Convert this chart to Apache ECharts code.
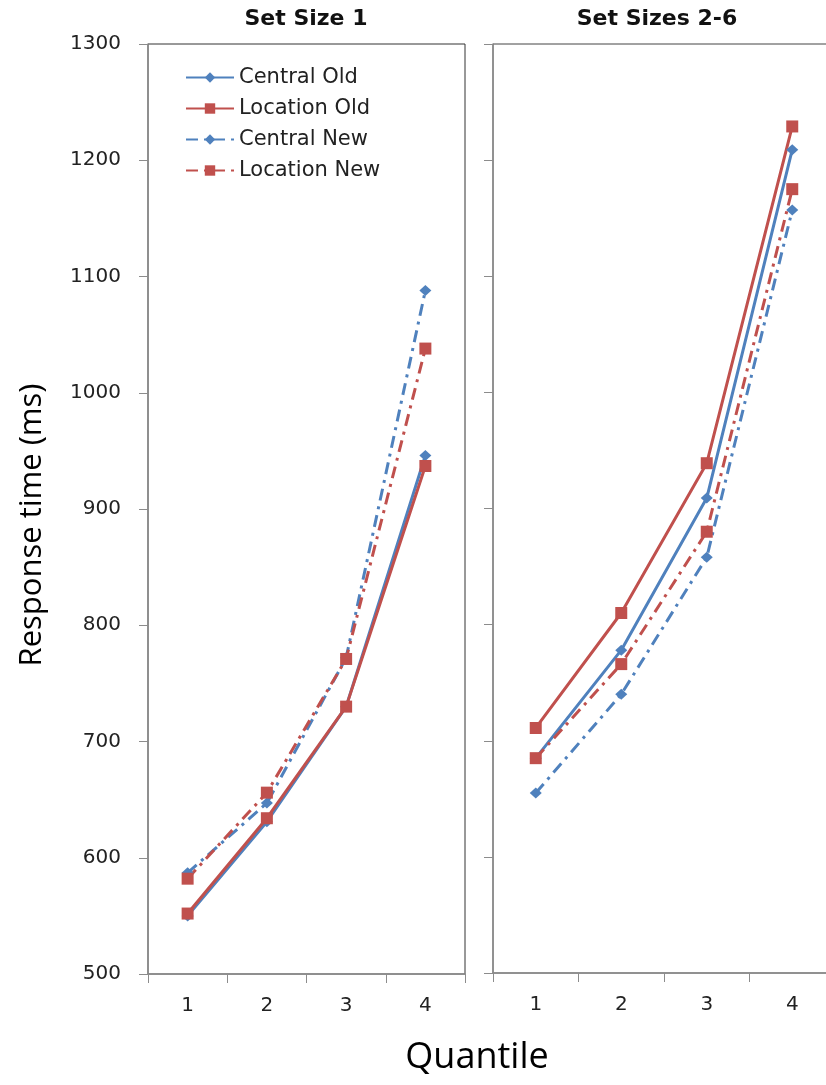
<!DOCTYPE html>
<html>
<head>
<meta charset="utf-8">
<script src="https://cdn.jsdelivr.net/npm/echarts@6/dist/echarts.min.js"></script>
<style>
html,body{margin:0;padding:0;background:#fff;}
#chart{width:826px;height:1085px;}
</style>
</head>
<body>
<div id="chart"></div>
<script>
const categories = ['1', '2', '3', '4'];
const seriesNames = ['Central Old', 'Location Old', 'Central New', 'Location New'];
const panelTitles = ['Set Size 1', 'Set Sizes 2-6'];
const yTicks = { min: 500, max: 1300, step: 100 };

const ss1CentralOld = [550, 631, 730, 946];
const ss1LocationOld = [552, 634, 730, 937];
const ss1CentralNew = [587, 647, 772, 1088];
const ss1LocationNew = [582, 656, 771, 1038];

const ss26CentralOld = [685, 778, 909, 1209];
const ss26LocationOld = [711, 810, 939, 1229];
const ss26CentralNew = [655, 740, 858, 1157];
const ss26LocationNew = [685, 766, 880, 1175];

const BLUE = '#4F81BD';
const RED = '#C0504D';
const FONT = 'DejaVu Sans';
const dashDot = [12, 6, 3, 6];

function mkSeries(name, data, idx, color, symbol, dashed) {
  return {
    name: name,
    type: 'line',
    xAxisIndex: idx,
    yAxisIndex: idx,
    data: data,
    symbol: symbol,
    symbolSize: symbol === 'diamond' ? [12, 11] : [12, 12],
    showAllSymbol: true,
    itemStyle: { color: color },
    lineStyle: { color: color, width: 3, type: dashed ? dashDot : 'solid' },
    z: 3,
    animation: false
  };
}

const chart = echarts.init(document.getElementById('chart'), null, { renderer: 'canvas' });

const yAxisCommon = {
  type: 'value',
  min: yTicks.min,
  max: yTicks.max,
  interval: yTicks.step,
  splitLine: { show: false },
  axisLine: { show: true, lineStyle: { color: '#8c8c8c', width: 1.5 } },
  axisTick: { show: true, inside: false, length: 9, lineStyle: { color: '#8c8c8c' } }
};
const xAxisCommon = {
  type: 'category',
  data: categories,
  boundaryGap: true,
  axisLine: { show: true, lineStyle: { color: '#8c8c8c', width: 1.5 } },
  axisTick: { show: true, length: 9, lineStyle: { color: '#8c8c8c' } },
  axisLabel: { color: '#222', fontFamily: FONT, fontSize: 20, margin: 22 },
  splitLine: { show: false }
};

chart.setOption({
  backgroundColor: '#fff',
  animation: false,
  grid: [
    { left: 148, top: 44, width: 317, height: 930, show: true, borderColor: '#333', borderWidth: 1, backgroundColor: 'transparent', outerBoundsMode: 'none', containLabel: false },
    { left: 493, top: 44, width: 342, height: 929, show: true, borderColor: '#444', borderWidth: 1, backgroundColor: 'transparent', outerBoundsMode: 'none', containLabel: false }
  ],
  xAxis: [
    Object.assign({}, xAxisCommon, { gridIndex: 0 }),
    Object.assign({}, xAxisCommon, { gridIndex: 1 })
  ],
  yAxis: [
    Object.assign({}, yAxisCommon, { gridIndex: 0, axisLabel: { show: true, color: '#222', fontFamily: FONT, fontSize: 20, margin: 27, formatter: function (v) { return String(v); } } }),
    Object.assign({}, yAxisCommon, { gridIndex: 1, axisLabel: { show: false } })
  ],
  legend: {
    data: seriesNames,
    orient: 'vertical',
    left: 180,
    top: 62,
    itemWidth: 48,
    itemHeight: 13,
    itemGap: 10,
    textStyle: { color: '#222', fontFamily: FONT, fontSize: 21, padding: [0, 0, 0, 0] },
    selectedMode: false
  },
  graphic: [
    { type: 'text', x: 306, y: 19, style: { text: panelTitles[0], font: 'bold 22px "DejaVu Sans"', fill: '#111', textAlign: 'center', textVerticalAlign: 'middle' } },
    { type: 'text', x: 657, y: 19, style: { text: panelTitles[1], font: 'bold 22px "DejaVu Sans"', fill: '#111', textAlign: 'center', textVerticalAlign: 'middle' } },
    { type: 'text', x: 32, y: 525, rotation: Math.PI / 2, style: { text: 'Response time (ms)', font: '31px "Open Sans"', fill: '#000', textAlign: 'center', textVerticalAlign: 'middle' } },
    { type: 'text', x: 477, y: 1058, style: { text: 'Quantile', font: '36px "Open Sans"', fill: '#000', textAlign: 'center', textVerticalAlign: 'middle' } }
  ],
  series: [
    mkSeries(seriesNames[0], ss1CentralOld, 0, BLUE, 'diamond', false),
    mkSeries(seriesNames[1], ss1LocationOld, 0, RED, 'rect', false),
    mkSeries(seriesNames[2], ss1CentralNew, 0, BLUE, 'diamond', true),
    mkSeries(seriesNames[3], ss1LocationNew, 0, RED, 'rect', true),
    mkSeries(seriesNames[0], ss26CentralOld, 1, BLUE, 'diamond', false),
    mkSeries(seriesNames[1], ss26LocationOld, 1, RED, 'rect', false),
    mkSeries(seriesNames[2], ss26CentralNew, 1, BLUE, 'diamond', true),
    mkSeries(seriesNames[3], ss26LocationNew, 1, RED, 'rect', true)
  ]
});
</script>
</body>
</html>
